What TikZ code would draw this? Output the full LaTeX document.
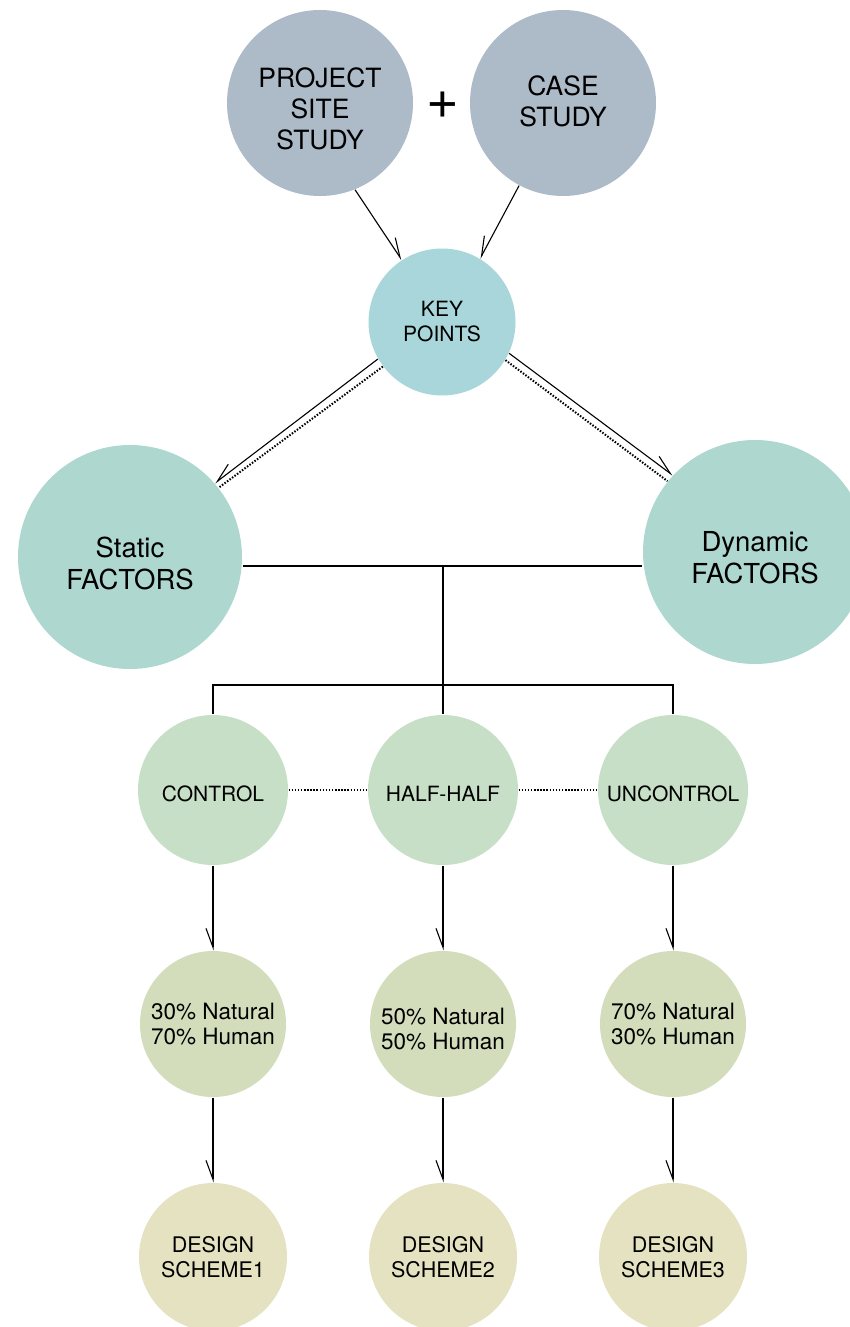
\documentclass[tikz,border=0pt]{standalone}
\usepackage{fontspec}
\setmainfont{TeX Gyre Heros}
\usetikzlibrary{graphs, arrows.meta}

\definecolor{studygrey}{HTML}{ADBAC7}
\definecolor{keyblue}{HTML}{A9D6DB}
\definecolor{factorteal}{HTML}{AED8CF}
\definecolor{modegreen}{HTML}{C6DFC6}
\definecolor{ratiogreen}{HTML}{D3DDBC}
\definecolor{schemesand}{HTML}{E5E2C2}

% text set a little lower than the circle centre
\newcommand{\lowered}[2]{\raisebox{-#1}[\height][\depth]{\begin{tabular}{@{}c@{}}#2\end{tabular}}}

\begin{document}
\begin{tikzpicture}[
                    x=1pt, y=-1pt,
                    ->,
                    >={Straight Barb[right, length=19pt, width=14pt]},
                    line width=1.1pt,
                    blob/.style={circle, inner sep=0pt, align=center},
                    studycircle/.style={blob, fill=studygrey, minimum size=186pt, font=\fontsize{26.5}{31}\selectfont},
                    keycircle/.style={blob, fill=keyblue, minimum size=147pt, font=\fontsize{21}{25}\selectfont},
                    factorcircle/.style={blob, fill=factorteal, minimum size=224pt, font=\fontsize{27.5}{32}\selectfont},
                    modecircle/.style={blob, fill=modegreen, minimum size=150pt, font=\fontsize{21}{25}\selectfont},
                    ratiocircle/.style={blob, fill=ratiogreen, minimum size=146pt, font=\fontsize{22.5}{25}\selectfont},
                    schemecircle/.style={blob, fill=schemesand, minimum size=148pt, font=\fontsize{21.5}{25}\selectfont},
                    barbL/.style={-{Straight Barb[left, length=19pt, width=14pt]}},
                    dots/.style={-, line width=2pt, dash pattern=on 1.5pt off 1.6pt},
                ]
                \useasboundingbox (0,0) rectangle (850,1327);

                % sources
                \node[studycircle] (site) at (320,103) {\lowered{9pt}{PROJECT\\SITE\\STUDY}};
                \node[studycircle] (case) at (563,103) {\lowered{2pt}{CASE\\STUDY}};
                \node[font=\fontsize{56}{56}\selectfont] (plus) at (443,105) {+};

                \node[keycircle] (keypts) at (442,322) {KEY\\POINTS};

                \node[factorcircle] (static) at (130,557) {\lowered{10pt}{Static\\FACTORS}};
                \node[factorcircle] (dynamic) at (755,552) {\lowered{9.5pt}{Dynamic\\FACTORS}};

                % three ways
                \matrix[row sep=86pt, column sep=80pt] at (443,1023) {
                    \node[modecircle] (control) {\lowered{6pt}{CONTROL}} ;
                    &
                    \node[modecircle] (half) {\lowered{6pt}{HALF-HALF}} ;
                    &
                    \node[modecircle] (uncontrol) {\lowered{6pt}{UNCONTROL}} ; \\

                    \node[ratiocircle] (nat30) {30\% Natural\\70\% Human} ;
                    &
                    \node[ratiocircle] (nat50) {\lowered{8pt}{50\% Natural\\50\% Human}} ;
                    &
                    \node[ratiocircle] (nat70) {70\% Natural\\30\% Human} ; \\

                    \node[schemecircle] (scheme1) {DESIGN\\SCHEME1} ;
                    &
                    \node[schemecircle] (scheme2) {DESIGN\\SCHEME2} ;
                    &
                    \node[schemecircle] (scheme3) {DESIGN\\SCHEME3} ; \\
                } ;

                \draw[barbL] (site.292) -- (keypts.123);
                \draw (case.242) -- (keypts.59);

                \draw (keypts.210) -- (static.41);
                \draw[dots] (keypts.217) -- (static.38);
                \draw[barbL] (keypts.335) -- (dynamic.137);
                \draw[dots] (keypts.329) -- (dynamic.141);

                \coordinate (hub) at (443,566);
                \coordinate (fork) at (443,685);
                \draw[-] (static.east |- hub) -- (dynamic.west |- hub);
                \draw[-] (hub) -- (half.north);
                \draw[-] (control.north) |- (fork) -| (uncontrol.north);

                \graph[use existing nodes]{
                    control -> nat30 -> scheme1 ;
                    half -> nat50 -> scheme2 ;
                    uncontrol -> nat70 -> scheme3 ;
                    control --[dots] half --[dots] uncontrol ;
                } ;
            \end{tikzpicture}
\end{document}
